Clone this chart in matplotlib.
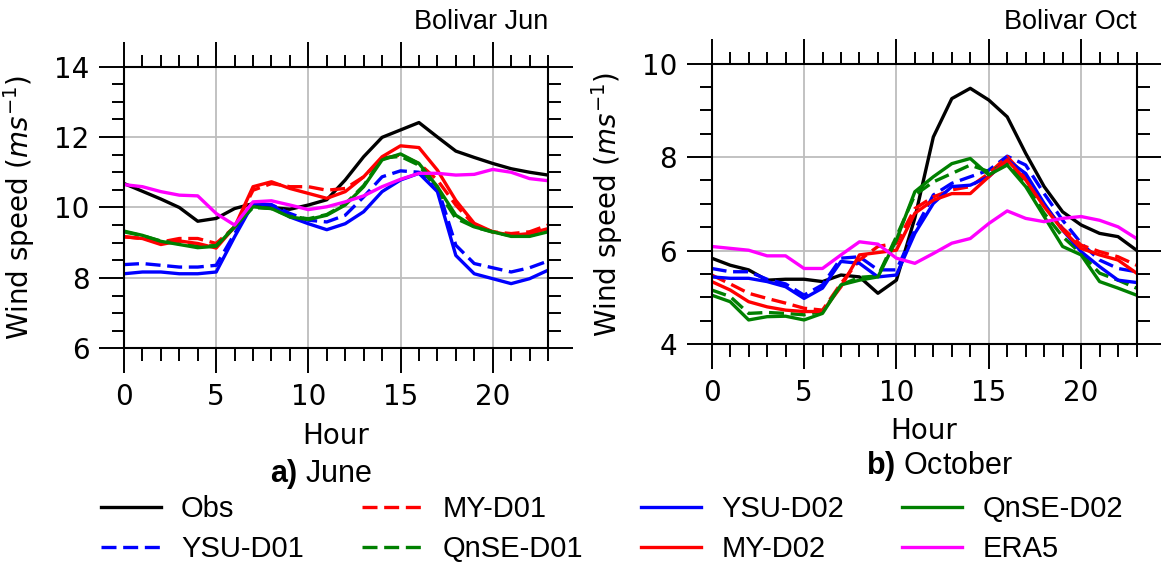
import matplotlib.pyplot as plt
import numpy as np
from matplotlib.ticker import MultipleLocator

hours = np.arange(24)

# June (Bolivar)
jun_obs = [10.68, 10.46, 10.24, 10.0, 9.61, 9.69, 9.97, 10.11, 10.0, 9.95, 10.07, 10.22, 10.78, 11.44,
           11.99, 12.2, 12.41, 12.0, 11.6, 11.42, 11.25, 11.1, 11.0, 10.92]
jun_ysu1 = [8.38, 8.41, 8.36, 8.31, 8.31, 8.36, 9.26, 10.11, 10.08, 9.83, 9.64, 9.59, 9.78, 10.3,
            10.87, 11.04, 11.0, 10.59, 8.93, 8.41, 8.29, 8.17, 8.29, 8.48]
jun_my1 = [9.17, 9.12, 9.02, 9.12, 9.12, 8.98, 9.45, 10.49, 10.68, 10.59, 10.59, 10.49, 10.54, 10.87,
           11.39, 11.49, 11.25, 10.78, 10.07, 9.5, 9.31, 9.26, 9.31, 9.5]
jun_qnse1 = [9.31, 9.2, 9.05, 8.97, 8.9, 8.92, 9.45, 10.0, 9.97, 9.75, 9.68, 9.8, 10.1, 10.62,
             11.4, 11.45, 11.2, 10.5, 9.69, 9.45, 9.3, 9.2, 9.2, 9.33]
jun_ysu2 = [8.12, 8.17, 8.17, 8.12, 8.12, 8.17, 9.17, 10.11, 10.07, 9.73, 9.54, 9.37, 9.54, 9.88,
            10.45, 10.78, 10.97, 10.45, 8.64, 8.12, 7.98, 7.84, 7.98, 8.22]
jun_my2 = [9.17, 9.12, 8.95, 9.05, 8.98, 8.85, 9.45, 10.59, 10.73, 10.54, 10.4, 10.26, 10.45, 10.87,
           11.44, 11.75, 11.7, 11.06, 10.2, 9.55, 9.31, 9.21, 9.26, 9.4]
jun_qnse2 = [9.33, 9.21, 9.04, 8.95, 8.86, 8.9, 9.45, 10.02, 9.97, 9.73, 9.66, 9.78, 10.07, 10.59,
             11.35, 11.52, 11.25, 10.59, 9.78, 9.45, 9.31, 9.18, 9.18, 9.31]
jun_era5 = [10.65, 10.59, 10.45, 10.35, 10.33, 9.83, 9.5, 10.16, 10.19, 10.07, 9.94, 10.02, 10.16, 10.33,
            10.59, 10.8, 10.97, 10.97, 10.92, 10.94, 11.08, 11.0, 10.82, 10.76]

# October (Bolivar)
oct_obs = [5.84, 5.69, 5.59, 5.37, 5.39, 5.39, 5.34, 5.48, 5.44, 5.09, 5.37, 6.7, 8.43, 9.25,
           9.47, 9.22, 8.86, 8.08, 7.37, 6.83, 6.55, 6.37, 6.3, 6.01]
oct_ysu1 = [5.62, 5.55, 5.55, 5.39, 5.29, 5.05, 5.27, 5.84, 5.87, 5.59, 5.59, 6.44, 7.19, 7.44,
            7.58, 7.72, 8.02, 7.83, 7.22, 6.65, 6.16, 5.8, 5.62, 5.55]
oct_my1 = [5.48, 5.29, 5.09, 4.98, 4.88, 4.77, 4.73, 5.3, 5.8, 6.09, 6.16, 6.9, 7.15, 7.3,
           7.37, 7.65, 8.01, 7.58, 6.98, 6.48, 6.12, 5.98, 5.87, 5.69]
oct_qnse1 = [5.16, 5.02, 4.66, 4.68, 4.66, 4.63, 4.7, 5.27, 5.43, 5.46, 6.3, 7.19, 7.47, 7.65,
             7.83, 7.69, 7.86, 7.44, 6.8, 6.3, 5.94, 5.52, 5.37, 5.2]
oct_ysu2 = [5.44, 5.41, 5.41, 5.34, 5.23, 4.98, 5.2, 5.77, 5.73, 5.44, 5.48, 6.37, 7.01, 7.37,
            7.4, 7.58, 7.94, 7.65, 7.01, 6.44, 5.98, 5.66, 5.37, 5.32]
oct_my2 = [5.34, 5.16, 4.91, 4.8, 4.73, 4.7, 4.7, 5.23, 5.91, 5.96, 6.01, 6.8, 7.08, 7.22,
           7.22, 7.58, 7.94, 7.51, 6.94, 6.44, 6.05, 5.91, 5.8, 5.52]
oct_qnse2 = [5.05, 4.91, 4.52, 4.59, 4.6, 4.52, 4.66, 5.27, 5.37, 5.44, 6.23, 7.26, 7.58, 7.86,
             7.97, 7.62, 7.83, 7.37, 6.73, 6.09, 5.91, 5.34, 5.2, 5.05]
oct_era5 = [6.09, 6.05, 6.01, 5.89, 5.89, 5.62, 5.62, 5.91, 6.19, 6.14, 5.84, 5.73, 5.94, 6.16,
            6.26, 6.58, 6.85, 6.69, 6.62, 6.69, 6.73, 6.65, 6.51, 6.26]

labels = ['Obs', 'YSU-D01', 'MY-D01', 'QnSE-D01', 'YSU-D02', 'MY-D02', 'QnSE-D02', 'ERA5']
colors = ['black', '#0000ff', '#ff0000', '#008000', '#0000ff', '#ff0000', '#008000', '#ff00ff']
dashed = [False, True, True, True, False, False, False, False]

plt.rcParams['font.family'] = ['DejaVu Sans']
plt.rcParams['mathtext.fontset'] = 'custom'
plt.rcParams['mathtext.bf'] = 'Liberation Sans:bold'
plt.rcParams['mathtext.it'] = 'DejaVu Sans:italic'
plt.rcParams['mathtext.rm'] = 'DejaVu Sans'

fig = plt.figure(figsize=(11.61, 5.67), dpi=100)
ax1 = fig.add_axes([0.1068, 0.3854, 0.3652, 0.4973])
ax2 = fig.add_axes([0.6130, 0.3928, 0.3659, 0.4952])


def draw(ax, series, ylim, title, tx):
    handles = []
    for y, lab, c, d in zip(series, labels, colors, dashed):
        if d:
            h, = ax.plot(hours, y, color=c, lw=2.4, dashes=(4.5, 2), label=lab)
        else:
            h, = ax.plot(hours, y, color=c, lw=2.4, label=lab)
        handles.append(h)
    ax.set_xlim(0, 23)
    ax.set_ylim(*ylim)
    ax.xaxis.set_major_locator(MultipleLocator(5))
    ax.xaxis.set_minor_locator(MultipleLocator(1))
    ax.yaxis.set_major_locator(MultipleLocator(2))
    ax.yaxis.set_minor_locator(MultipleLocator(0.5))
    ax.grid(True, which='major', color='#bdbdbd', lw=1.3)
    ax.tick_params(which='both', direction='out', top=True, right=True, width=1.4, labelsize=20, pad=7)
    ax.tick_params(which='major', length=18)
    ax.tick_params(which='minor', length=9)
    for s in ax.spines.values():
        s.set_linewidth(1.5)
    ax.set_xlabel('Hour', fontsize=20)
    ax.set_ylabel(r'Wind speed ($ms^{-1}$)', fontsize=20)
    ax.yaxis.set_label_coords(-0.204, 0.5)
    ax.xaxis.set_label_coords(0.5, -0.26)
    fig.text(tx, 1 - 22 / 567, title, ha='right', va='center', fontsize=19.5, family='Liberation Sans')
    return handles


handles = draw(ax1, [jun_obs, jun_ysu1, jun_my1, jun_qnse1, jun_ysu2, jun_my2, jun_qnse2, jun_era5],
               (6, 14), 'Bolivar Jun', 548 / 1161)
draw(ax2, [oct_obs, oct_ysu1, oct_my1, oct_qnse1, oct_ysu2, oct_my2, oct_qnse2, oct_era5],
     (4, 10), 'Bolivar Oct', 1137 / 1161)

fig.text(321 / 1161, 1 - 474 / 567, r'$\bf{a)}$ June', ha='center', va='center', fontsize=22,
         family='Liberation Sans')
fig.text(940 / 1161, 1 - 466 / 567, r'$\bf{b)}$ October', ha='center', va='center', fontsize=22,
         family='Liberation Sans')

fig.legend(handles, labels, ncol=4, loc='center', bbox_to_anchor=(612 / 1161, 1 - 529 / 567),
           frameon=False, prop={'family': 'Liberation Sans', 'size': 21}, handlelength=2.05,
           handletextpad=0.7, columnspacing=2.0, labelspacing=0.42)

fig.savefig('out.png', dpi=100)
